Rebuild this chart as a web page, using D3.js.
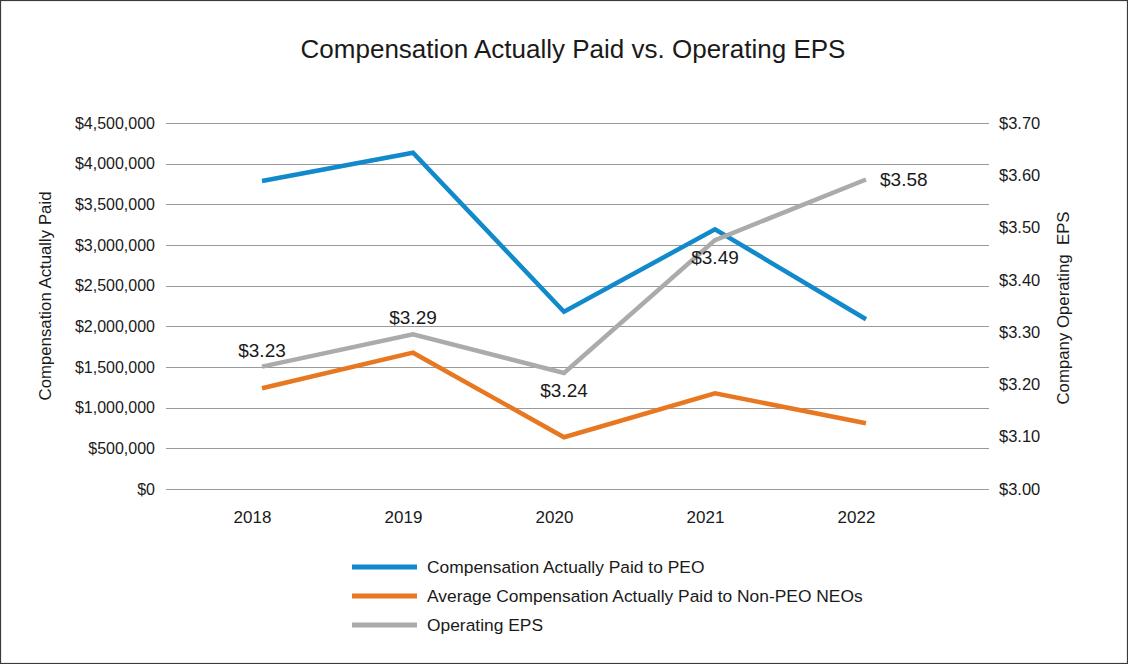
<!DOCTYPE html>
<html>
<head>
<meta charset="utf-8">
<script src="https://cdn.jsdelivr.net/npm/d3@7"></script>
<style>
  html, body { margin: 0; padding: 0; background: #fff; }
  svg { display: block; }
  text { font-family: "Liberation Sans", Arial, sans-serif; fill: #1a1a1a; }
</style>
</head>
<body>
<svg id="chart" width="1128" height="664"></svg>
<script>
// ---- data ----
const years = ["2018", "2019", "2020", "2021", "2022"];
const peoCAP = [3787000, 4135000, 2180000, 3193000, 2087000];
const neoCAP = [1238000, 1676000, 636000, 1177000, 808000];
const operatingEPS = [3.234, 3.296, 3.222, 3.476, 3.592];
const epsLabels = ["$3.23", "$3.29", "$3.24", "$3.49", "$3.58"];
const leftTicks = [0, 500000, 1000000, 1500000, 2000000, 2500000, 3000000, 3500000, 4000000, 4500000];
const rightTicks = [3.0, 3.1, 3.2, 3.3, 3.4, 3.5, 3.6, 3.7];
const seriesNames = ["Compensation Actually Paid to PEO", "Average Compensation Actually Paid to Non-PEO NEOs", "Operating EPS"];
const colors = ["#1189CA", "#E87722", "#ABABAB"];

// ---- layout ----
const W = 1128, H = 664;
const svg = d3.select("#chart");
const plot = { left: 166, right: 989, top: 123, bottom: 489 };
const FONT = "Liberation Sans, Arial, sans-serif";

svg.append("rect").attr("x", 0.5).attr("y", 0.5).attr("width", W - 1).attr("height", H - 1)
  .attr("fill", "#fff").attr("stroke", "#3a3a3a").attr("stroke-width", 1.2);

const x = d3.scalePoint().domain(years).range([262, 866]);
const yL = d3.scaleLinear().domain([0, 4500000]).range([plot.bottom, plot.top]);
const yR = d3.scaleLinear().domain([3.0, 3.7]).range([plot.bottom, plot.top]);

// title
svg.append("text").attr("x", 573).attr("y", 58).attr("text-anchor", "middle")
  .style("font-size", "26px").text("Compensation Actually Paid vs. Operating EPS");

// gridlines
svg.append("g").selectAll("line").data(leftTicks).join("line")
  .attr("x1", plot.left).attr("x2", plot.right)
  .attr("y1", d => Math.round(yL(d)) + 0.5).attr("y2", d => Math.round(yL(d)) + 0.5)
  .attr("stroke", "#9a9a9a").attr("stroke-width", 1);

// left axis
const fmtL = d => "$" + d3.format(",")(d);
const axL = d3.axisLeft(yL).tickValues(leftTicks).tickFormat(fmtL).tickSize(0).tickPadding(11);
const gL = svg.append("g").attr("transform", `translate(${plot.left},0)`).call(axL);
gL.select(".domain").remove();
gL.selectAll("text").style("font-size", "16px").style("font-family", FONT).attr("fill", "#1a1a1a");

// right axis
const axR = d3.axisRight(yR).tickValues(rightTicks).tickFormat(d => "$" + d3.format(".2f")(d)).tickSize(0).tickPadding(10);
const gR = svg.append("g").attr("transform", `translate(${plot.right},0)`).call(axR);
gR.select(".domain").remove();
gR.selectAll("text").style("font-size", "16.5px").style("font-family", FONT).attr("fill", "#1a1a1a");

// x axis labels
const axX = d3.axisBottom(x).tickSize(0).tickPadding(0);
const gX = svg.append("g").attr("transform", `translate(-10,${plot.bottom + 22})`).call(axX);
gX.select(".domain").remove();
gX.selectAll("text").style("font-size", "17px").style("font-family", FONT).attr("fill", "#1a1a1a");

// axis titles
svg.append("text").attr("transform", `translate(51,296) rotate(-90)`).attr("text-anchor", "middle")
  .style("font-size", "16.8px").text("Compensation Actually Paid");
svg.append("text").attr("transform", `translate(1069,308) rotate(-90)`).attr("text-anchor", "middle")
  .style("font-size", "16.8px").text("Company Operating\u00a0\u00a0EPS");

// lines
const lineL = d3.line().x((d, i) => x(years[i])).y(d => yL(d));
const lineR = d3.line().x((d, i) => x(years[i])).y(d => yR(d));
svg.append("path").datum(peoCAP).attr("d", lineL).attr("fill", "none")
  .attr("stroke", colors[0]).attr("stroke-width", 4.5);
svg.append("path").datum(neoCAP).attr("d", lineL).attr("fill", "none")
  .attr("stroke", colors[1]).attr("stroke-width", 4.5);
svg.append("path").datum(operatingEPS).attr("d", lineR).attr("fill", "none")
  .attr("stroke", colors[2]).attr("stroke-width", 4.5);

// EPS data labels
const labelPos = ["above", "above", "below", "below", "right"];
svg.append("g").selectAll("text").data(operatingEPS).join("text")
  .attr("x", (d, i) => labelPos[i] === "right" ? x(years[i]) + 14 : x(years[i]))
  .attr("y", (d, i) => {
    const yy = yR(d);
    if (labelPos[i] === "above") return yy - 10;
    if (labelPos[i] === "below") return yy + 24;
    return yy + 7;
  })
  .attr("text-anchor", (d, i) => labelPos[i] === "right" ? "start" : "middle")
  .style("font-size", "19px")
  .text((d, i) => epsLabels[i]);

// legend
const lg = svg.append("g");
seriesNames.forEach((name, i) => {
  const yy = 567 + i * 29;
  lg.append("line").attr("x1", 352).attr("x2", 417).attr("y1", yy).attr("y2", yy)
    .attr("stroke", colors[i]).attr("stroke-width", 5);
  lg.append("text").attr("x", 427).attr("y", yy + 6).style("font-size", "17.4px").text(name);
});
</script>
</body>
</html>
